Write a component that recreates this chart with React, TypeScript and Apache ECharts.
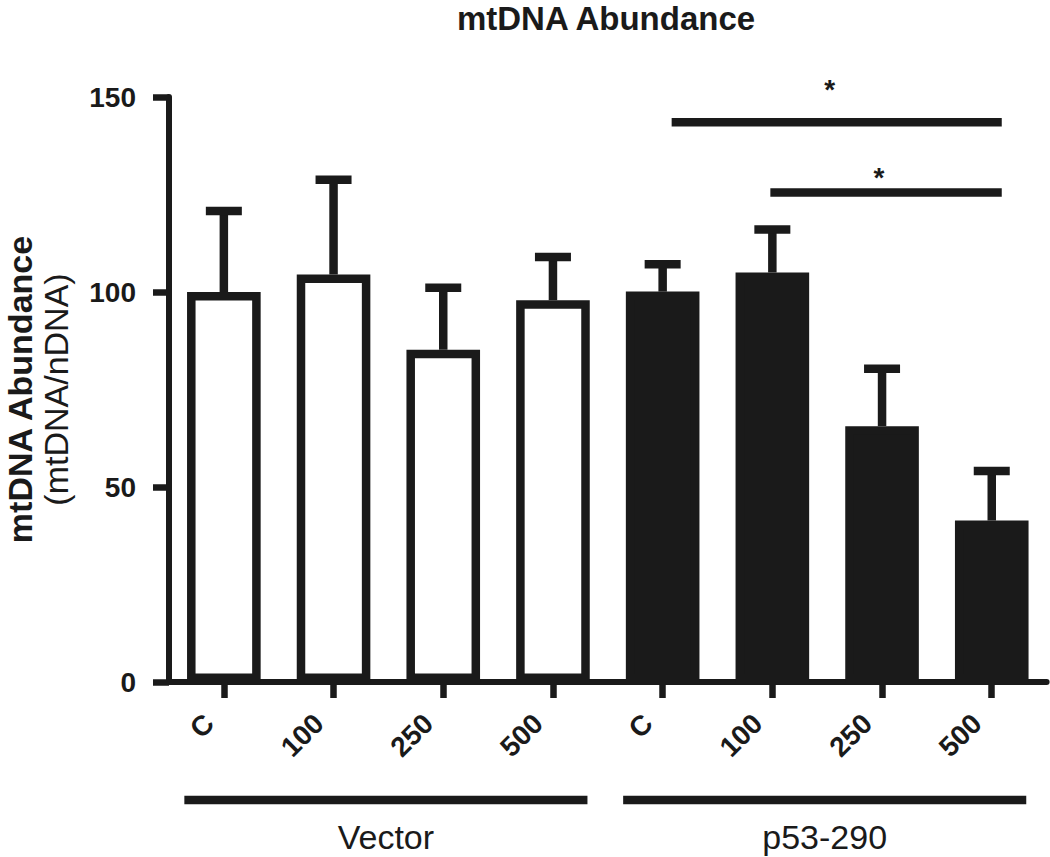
import React, { useEffect, useRef } from 'react';
import * as echarts from 'echarts';

const categories = ['C', '100', '250', '500', 'C', '100', '250', '500'];
const means = [100.0, 104.5, 85.2, 97.9, 100.1, 105.0, 65.6, 41.4];
const errorTops = [120.8, 128.8, 101.1, 109.0, 107.1, 116.0, 80.3, 54.1];
const filled = [false, false, false, false, true, true, true, true];
const groupLabels = ['Vector', 'p53-290'];
const groupStart = [0, 4];
const groupEnd = [3, 7];
const sigStart = [4, 5];
const sigEnd = [7, 7];
const sigLevel = [143.5, 125.5];
const sigMark = ['*', '*'];
const yTicks = [0, 50, 100, 150];

const INK = '#1a1a1a';
const FONT = '"Liberation Sans", Arial, Helvetica, sans-serif';

export default function App() {
  const ref = useRef<HTMLDivElement>(null);
  useEffect(() => {
    const chart = echarts.init(ref.current!, null, { renderer: 'svg' });
    const sigStartShift = [9, -2];
    const sigStarY = [-33, -15];
    const option: any = {
      animation: false,
      backgroundColor: '#ffffff',
      title: {
        text: 'mtDNA Abundance',
        left: 606,
        top: 5,
        textAlign: 'center',
        padding: 0,
        textStyle: { fontSize: 33, fontWeight: 'bold', fontFamily: FONT, color: INK, lineHeight: 26 },
      },
      grid: {
        left: 169, right: 3.4, top: 97, bottom: 175,
        containLabel: false, outerBoundsMode: 'none',
      },
      xAxis: {
        type: 'category',
        data: categories,
        axisLine: { show: true, lineStyle: { color: INK, width: 6 } },
        axisTick: { show: true, alignWithLabel: true, length: 16, lineStyle: { color: INK, width: 6.5 } },
        axisLabel: {
          rotate: 45,
          margin: 22,
          padding: [0, 21, 0, 0],
          fontSize: 28,
          fontWeight: 'bold',
          fontFamily: FONT,
          color: INK,
          interval: 0,
        },
        splitLine: { show: false },
      },
      yAxis: {
        type: 'value',
        min: yTicks[0],
        max: yTicks[yTicks.length - 1],
        interval: yTicks[1] - yTicks[0],
        axisLine: { show: true, lineStyle: { color: INK, width: 6 } },
        axisTick: { show: true, length: 16, lineStyle: { color: INK, width: 6.5 } },
        axisLabel: { margin: 33, fontSize: 28, fontWeight: 'bold', fontFamily: FONT, color: INK },
        splitLine: { show: false },
        name: '{b|mtDNA Abundance}\n{n|(mtDNA/nDNA)}',
        nameLocation: 'middle',
        nameRotate: 90,
        nameGap: 131,
        nameMoveOverlap: false,
        nameTextStyle: {
          align: 'center',
          verticalAlign: 'middle',
          rich: {
            b: { fontSize: 34, fontWeight: 'bold', fontFamily: FONT, color: INK, lineHeight: 36 },
            n: { fontSize: 34, fontWeight: 'normal', fontFamily: FONT, color: INK, lineHeight: 36 },
          },
        },
      },
      series: [
        {
          type: 'bar',
          barWidth: 73.6,
          data: means.map((v, i) => ({
            value: v,
            itemStyle: { color: filled[i] ? INK : '#ffffff', borderColor: INK, borderWidth: 8.5 },
          })),
          z: 2,
        },
        {
          type: 'custom',
          z: 3,
          data: means.map((m, i) => [i, m, errorTops[i]]),
          encode: { x: 0, y: [1, 2] },
          renderItem: (params: any, api: any) => {
            const i = api.value(0);
            const base = api.coord([i, api.value(1)]);
            const top = api.coord([i, api.value(2)]);
            const half = 18;
            return {
              type: 'group',
              children: [
                { type: 'line', shape: { x1: top[0], y1: base[1], x2: top[0], y2: top[1] }, style: { stroke: INK, lineWidth: 8.5 } },
                { type: 'line', shape: { x1: top[0] - half, y1: top[1], x2: top[0] + half, y2: top[1] }, style: { stroke: INK, lineWidth: 8.5 } },
              ],
            };
          },
        },
        {
          type: 'custom',
          z: 3,
          data: sigStart.map((s, i) => [s, sigEnd[i], sigLevel[i]]),
          encode: { x: [0, 1], y: 2 },
          renderItem: (params: any, api: any) => {
            const k = params.dataIndex;
            const p1 = api.coord([api.value(0), api.value(2)]);
            const p2 = api.coord([api.value(1), api.value(2)]);
            const x1 = p1[0] + sigStartShift[k];
            const x2 = p2[0] + 10;
            return {
              type: 'group',
              children: [
                { type: 'line', shape: { x1, y1: p1[1], x2, y2: p1[1] }, style: { stroke: INK, lineWidth: 8.5 } },
                {
                  type: 'text',
                  style: {
                    text: sigMark[k], x: (x1 + x2) / 2 - 7, y: p1[1] + sigStarY[k],
                    fill: INK, fontSize: 28, fontWeight: 'bold', fontFamily: FONT,
                    align: 'center', verticalAlign: 'middle',
                  },
                },
              ],
            };
          },
        },
        {
          type: 'custom',
          z: 3,
          data: groupStart.map((s, i) => [s, groupEnd[i], 0]),
          encode: { x: [0, 1], y: 2 },
          renderItem: (params: any, api: any) => {
            const k = params.dataIndex;
            const p1 = api.coord([api.value(0), api.value(2)]);
            const p2 = api.coord([api.value(1), api.value(2)]);
            const x1 = p1[0] - 39.5;
            const x2 = p2[0] + 34.5;
            const y = p1[1] + 118;
            return {
              type: 'group',
              children: [
                { type: 'line', shape: { x1, y1: y, x2, y2: y }, style: { stroke: INK, lineWidth: 8.5 } },
                {
                  type: 'text',
                  style: {
                    text: groupLabels[k], x: (x1 + x2) / 2, y: y + 37,
                    fill: INK, fontSize: 34, fontFamily: FONT,
                    align: 'center', verticalAlign: 'middle',
                  },
                },
              ],
            };
          },
        },
      ],
    };
    chart.setOption(option);
    return () => chart.dispose();
  }, []);
  return (
    <div
      ref={ref}
      style={{ position: 'fixed', left: 0, top: 0, width: 1050, height: 857, background: '#fff' }}
    />
  );
}
